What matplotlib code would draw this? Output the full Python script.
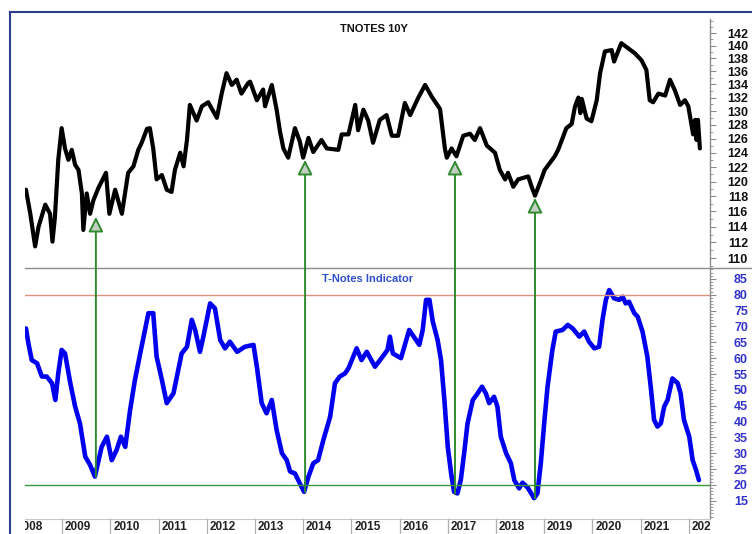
import matplotlib
matplotlib.use("Agg")
import matplotlib.pyplot as plt
from matplotlib.patches import ConnectionPatch
from matplotlib.lines import Line2D
from matplotlib.ticker import FixedLocator, NullFormatter

plt.rcParams['font.family'] = ['Liberation Sans', 'DejaVu Sans']

# ---------------- data ----------------
price_years = [2008.25, 2008.34, 2008.44, 2008.51, 2008.65, 2008.75, 2008.80, 2008.85, 2008.92, 2008.99,
               2009.06, 2009.13, 2009.20, 2009.27, 2009.34, 2009.41, 2009.44, 2009.51, 2009.58, 2009.65,
               2009.75, 2009.91, 2009.98, 2010.10, 2010.24, 2010.37, 2010.48, 2010.58, 2010.65, 2010.76,
               2010.82, 2010.89, 2010.96, 2011.07, 2011.17, 2011.27, 2011.34, 2011.45, 2011.52, 2011.59,
               2011.65, 2011.79, 2011.90, 2012.03, 2012.21, 2012.31, 2012.41, 2012.52, 2012.62, 2012.72,
               2012.86, 2012.90, 2013.04, 2013.17, 2013.21, 2013.35, 2013.45, 2013.52, 2013.59, 2013.69,
               2013.83, 2013.93, 2014.00, 2014.11, 2014.21, 2014.38, 2014.49, 2014.73, 2014.80, 2014.94,
               2015.08, 2015.14, 2015.25, 2015.35, 2015.45, 2015.59, 2015.73, 2015.84, 2015.97, 2016.11,
               2016.22, 2016.39, 2016.53, 2016.67, 2016.84, 2016.94, 2016.98, 2017.08, 2017.18, 2017.32,
               2017.46, 2017.56, 2017.67, 2017.81, 2017.98, 2018.08, 2018.19, 2018.25, 2018.36, 2018.46,
               2018.56, 2018.67, 2018.74, 2018.81, 2018.91, 2019.01, 2019.12, 2019.22, 2019.29, 2019.46,
               2019.57, 2019.64, 2019.71, 2019.75, 2019.78, 2019.88, 2019.98, 2020.09, 2020.16, 2020.26,
               2020.40, 2020.45, 2020.60, 2020.74, 2020.88, 2021.02, 2021.12, 2021.19, 2021.26, 2021.37,
               2021.51, 2021.61, 2021.71, 2021.82, 2021.92, 2021.99, 2022.09, 2022.13, 2022.16, 2022.19,
               2022.23]
price_values = [118.9, 115.7, 111.5, 114.0, 116.9, 115.7, 112.1, 115.2, 123.0, 127.5,
                124.6, 123.0, 124.4, 122.3, 121.6, 118.4, 113.6, 118.4, 115.7, 117.5,
                119.1, 121.2, 115.7, 118.9, 115.7, 121.2, 122.1, 124.4, 125.4, 127.4,
                127.5, 124.6, 120.3, 120.9, 118.9, 118.6, 121.6, 124.0, 122.1, 125.8,
                130.9, 128.6, 130.7, 131.3, 129.0, 132.6, 135.7, 133.9, 134.7, 132.6,
                134.2, 134.4, 131.6, 133.2, 130.7, 133.9, 130.2, 127.0, 124.6, 123.3,
                127.5, 125.6, 123.3, 126.1, 124.1, 125.8, 124.6, 124.4, 126.6, 126.6,
                130.9, 127.2, 130.2, 128.6, 125.4, 128.7, 129.4, 126.4, 126.4, 131.2,
                129.4, 132.0, 133.9, 132.1, 130.3, 124.6, 123.3, 124.6, 123.5, 126.4,
                126.7, 125.8, 127.5, 125.0, 124.0, 121.6, 120.3, 121.2, 119.3, 120.3,
                120.5, 120.7, 119.3, 118.1, 119.8, 121.6, 122.6, 123.5, 124.4, 127.5,
                128.1, 130.7, 132.0, 129.7, 131.8, 128.9, 128.5, 131.6, 135.7, 139.1,
                139.3, 137.5, 140.4, 139.6, 138.8, 137.7, 136.2, 131.6, 131.3, 132.6,
                132.3, 134.7, 133.1, 130.9, 131.6, 130.7, 126.6, 128.7, 125.8, 128.7,
                124.6]

ind_years = [2008.25, 2008.30, 2008.37, 2008.48, 2008.58, 2008.68, 2008.79, 2008.86, 2008.92, 2008.99,
             2009.06, 2009.17, 2009.27, 2009.37, 2009.48, 2009.58, 2009.68, 2009.82, 2009.93, 2010.03,
             2010.13, 2010.22, 2010.31, 2010.41, 2010.51, 2010.62, 2010.79, 2010.89, 2010.96, 2011.07,
             2011.17, 2011.31, 2011.48, 2011.59, 2011.69, 2011.76, 2011.86, 2011.93, 2012.07, 2012.17,
             2012.28, 2012.38, 2012.48, 2012.63, 2012.79, 2012.97, 2013.04, 2013.14, 2013.24, 2013.35,
             2013.45, 2013.56, 2013.66, 2013.73, 2013.83, 2013.93, 2014.02, 2014.11, 2014.21, 2014.31,
             2014.42, 2014.56, 2014.66, 2014.76, 2014.87, 2014.94, 2015.11, 2015.21, 2015.32, 2015.49,
             2015.65, 2015.75, 2015.80, 2015.86, 2016.03, 2016.20, 2016.41, 2016.48, 2016.55, 2016.62,
             2016.69, 2016.79, 2016.86, 2016.93, 2017.00, 2017.07, 2017.13, 2017.20, 2017.27, 2017.34,
             2017.41, 2017.52, 2017.62, 2017.71, 2017.79, 2017.86, 2017.96, 2018.03, 2018.10, 2018.21,
             2018.31, 2018.38, 2018.48, 2018.55, 2018.66, 2018.79, 2018.86, 2018.93, 2019.00, 2019.07,
             2019.17, 2019.24, 2019.38, 2019.49, 2019.59, 2019.73, 2019.83, 2019.93, 2020.04, 2020.14,
             2020.21, 2020.28, 2020.35, 2020.45, 2020.56, 2020.63, 2020.69, 2020.76, 2020.87, 2020.94,
             2021.04, 2021.14, 2021.21, 2021.28, 2021.35, 2021.42, 2021.49, 2021.56, 2021.66, 2021.77,
             2021.83, 2021.90, 2022.01, 2022.08, 2022.15, 2022.21]
ind_values = [69.4, 64.7, 59.4, 58.4, 54.2, 54.2, 52.1, 46.8, 55.2, 62.6,
              61.5, 52.1, 44.7, 39.4, 28.9, 26.3, 22.6, 32.0, 35.2, 27.8,
              31.0, 35.2, 32.0, 43.6, 53.1, 61.5, 74.2, 74.2, 60.5, 53.1,
              45.8, 48.9, 61.5, 63.6, 72.1, 68.9, 62.0, 66.8, 77.3, 75.7,
              65.7, 63.1, 65.2, 62.0, 63.6, 64.2, 57.3, 45.8, 42.6, 46.8,
              37.3, 30.0, 27.8, 24.2, 23.6, 20.5, 17.8, 22.6, 26.8, 27.8,
              34.2, 41.5, 52.1, 54.2, 55.2, 56.8, 63.1, 59.4, 62.0, 57.3,
              60.5, 62.6, 66.8, 61.5, 60.0, 68.9, 64.2, 68.9, 78.4, 78.4,
              71.5, 65.7, 59.4, 46.8, 32.0, 23.6, 17.8, 17.3, 21.5, 30.0,
              39.4, 46.8, 48.9, 51.0, 48.9, 45.8, 47.8, 44.7, 35.2, 30.0,
              26.8, 21.5, 18.9, 20.7, 19.1, 15.8, 17.3, 26.8, 39.4, 51.0,
              62.6, 68.4, 68.9, 70.5, 69.4, 66.8, 68.4, 65.2, 63.1, 63.6,
              72.1, 78.4, 81.5, 78.9, 78.4, 79.4, 77.3, 77.8, 74.2, 73.1,
              68.4, 60.5, 51.0, 40.5, 38.4, 39.4, 44.7, 46.8, 53.6, 52.1,
              48.9, 40.5, 35.2, 27.8, 24.7, 21.5]

upper_level = 80
lower_level = 20

arrow_years = [2009.70, 2014.04, 2017.15, 2018.81]
arrow_ind = [22.6, 17.8, 17.3, 15.8]
arrow_price = [115.3, 123.0, 123.0, 117.8]

year_labels = list(range(2008, 2023))
price_ticks = list(range(110, 143, 2))
ind_ticks = list(range(15, 86, 5))

# ---------------- figure ----------------
W, H = 752, 534
fig = plt.figure(figsize=(W / 100, H / 100), dpi=100)

def fx(px):
    return px / W

def fy(py):
    return (H - py) / H

left, right = 25, 710
ax1 = fig.add_axes([fx(left), fy(268), fx(right - left), (268 - 19) / H])
ax2 = fig.add_axes([fx(left), fy(519), fx(right - left), (519 - 268) / H], sharex=ax1)
ax3 = fig.add_axes([fx(left), 0, fx(right - left), 15 / H], sharex=ax1)

xmin, xmax = 2008.23, 2022.44
ax1.set_xlim(xmin, xmax)

grey = '#8c8c8c'

# price panel (log scale)
ax1.plot(price_years, price_values, color='black', lw=3.0, solid_joinstyle='round',
         solid_capstyle='round')
ax1.set_yscale('log')
ax1.set_ylim(108.8, 144.3)
ax1.yaxis.tick_right()
ax1.yaxis.set_major_locator(FixedLocator(price_ticks))
ax1.yaxis.set_minor_locator(FixedLocator(list(range(109, 145))))
ax1.yaxis.set_minor_formatter(NullFormatter())
ax1.set_yticklabels([str(t) for t in price_ticks])
ax1.text(0.509, 0.958, 'TNOTES 10Y', transform=ax1.transAxes, ha='center', va='center',
         fontsize=8, fontweight='bold', color='#111111')

# indicator panel
ax2.plot(ind_years, ind_values, color='#0000ee', lw=3.3, solid_joinstyle='round',
         solid_capstyle='round')
ax2.axhline(upper_level, color='#e0907f', lw=1.0)
ax2.axhline(lower_level, color='#3a9a3a', lw=1.0)
ax2.set_ylim(9.22, 88.47)
ax2.yaxis.tick_right()
ax2.yaxis.set_major_locator(FixedLocator(ind_ticks))
ax2.yaxis.set_minor_locator(FixedLocator(list(range(10, 89))))
ax2.yaxis.set_minor_formatter(NullFormatter())
ax2.set_yticklabels([str(t) for t in ind_ticks])
ax2.text(0.500, 0.955, 'T-Notes Indicator', transform=ax2.transAxes, ha='center', va='center',
         fontsize=8, fontweight='bold', color='#3050c8')

for ax, col in ((ax1, '#111111'), (ax2, '#3333cc')):
    for s in ('left', 'top', 'bottom'):
        ax.spines[s].set_visible(False)
    ax.spines['right'].set_color(grey)
    ax.spines['right'].set_linewidth(1.0)
    ax.tick_params(axis='y', which='major', direction='out', length=4.3, width=0.8,
                   color=grey, labelsize=9, labelcolor=col, pad=23)
    ax.tick_params(axis='y', which='minor', direction='out', length=2.2, width=0.6, color=grey)
    ax.tick_params(axis='x', which='both', bottom=False, labelbottom=False)
    ax.set_facecolor('none')
    for t in ax.yaxis.get_major_ticks():
        t.label2.set_horizontalalignment('right')
        t.label2.set_fontweight('bold')

ax2.spines['bottom'].set_visible(True)
ax2.spines['bottom'].set_color('#c8c8c8')
ax2.spines['bottom'].set_linewidth(0.8)

# label strip (clips year labels at the plot edges)
ax3.set_ylim(0, 1)
ax3.axis('off')
for yr in year_labels:
    ax3.axvline(yr, color='#b0b0b0', lw=0.9)
    ax3.text(yr + 0.06, 0.45, str(yr), ha='left', va='center', fontsize=8.5,
             fontweight='bold', color='#222222', clip_on=True)

# separator line between panels, extended to the right edge
fig.add_artist(Line2D([fx(left), 1.0], [fy(268), fy(268)], color=grey, lw=1.0))

# outer frame
frame_c = '#2c3f8c'
fig.add_artist(Line2D([fx(9.5), 1.0], [fy(12), fy(12)], color=frame_c, lw=1.5))
fig.add_artist(Line2D([fx(9.5), fx(9.5)], [fy(12), 0], color=frame_c, lw=1.5))

# arrows from indicator lows to price lows
for yr, iv, pv in zip(arrow_years, arrow_ind, arrow_price):
    con = ConnectionPatch(xyA=(yr, iv), coordsA=ax2.transData,
                          xyB=(yr, pv), coordsB=ax1.transData,
                          arrowstyle='-|>,head_length=0.9,head_width=0.45',
                          mutation_scale=10, shrinkA=0, shrinkB=0,
                          ec='#2e8b2e', fc='#c4cfc4', lw=1.4, zorder=5)
    fig.add_artist(con)

fig.savefig('out.png', dpi=100)
